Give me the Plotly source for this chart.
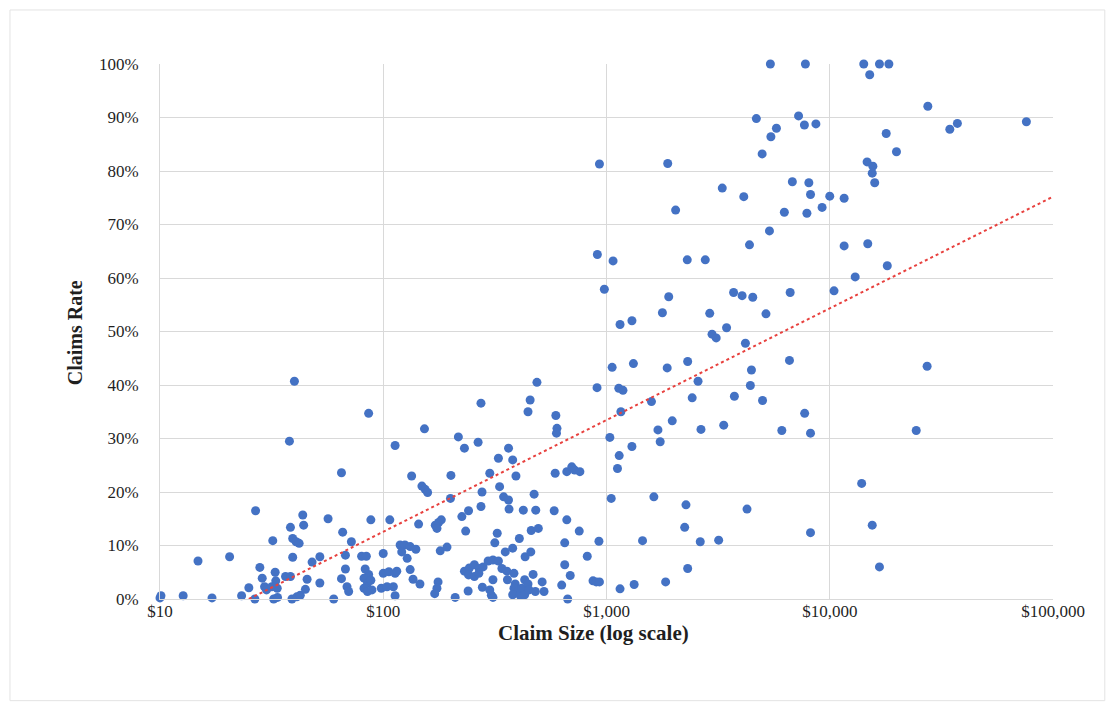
import plotly.graph_objects as go

# ---- data (claim size in $, claims rate in %) ----
claim_size = [
    10, 10.1, 12.7, 14.8, 17.1, 20.5, 23.2, 25, 26.6, 26.8, 28, 28.7, 29.4, 30, 32, 32.8, 33, 31.7, 33.5, 32.3,
    33.6, 36.5, 38.4, 38, 40, 38.4, 39.3, 40.7, 42, 39.3, 39, 41, 42.5, 43.6, 44, 45.6, 44.8, 48, 52, 52,
    56.6, 60, 65, 65.8, 67.7, 67.7, 65, 68.8, 70, 72, 80, 84, 86, 88, 83, 86, 82, 85, 88, 82,
    85, 89, 98, 100, 100, 104, 107, 113, 106, 113, 115, 111, 113, 119, 125, 132, 140, 121, 128, 132,
    136, 146, 134, 144, 153, 149, 154, 158, 171, 177, 182, 174, 180, 193, 176, 174, 170, 200, 201, 210,
    217, 225, 231, 234, 241, 231, 243, 256, 269, 241, 256, 268, 240, 266, 274, 274, 277, 280, 278, 295,
    310, 328, 300, 310, 305, 310, 300, 316, 324, 328, 332, 346, 364, 366, 364, 380, 393, 352, 380, 340,
    358, 385, 360, 390, 385, 403, 380, 410, 417, 430, 407, 424, 432, 458, 430, 469, 445, 450, 445, 455,
    488, 474, 482, 460, 495, 480, 515, 525, 583, 593, 600, 597, 589, 664, 699, 720, 760, 664, 650, 650,
    688, 630, 670, 755, 820, 870, 900, 930, 925, 907, 930, 910, 978,
    1060, 1035, 1070, 1050, 1135, 1185, 1160, 1140, 1120, 1150, 1150, 1300, 1320, 1300, 1330, 1450, 1590,
    1630, 1700, 1740, 1780, 1840, 1870, 1880, 1900, 1970, 2040, 2240, 2270, 2300, 2310, 2310, 2420, 2570,
    2630, 2650, 2770, 2900, 2970, 3100, 3180, 3300, 3350, 3450, 3710, 3740, 4050, 4120, 4190, 4260, 4370,
    4410, 4460, 4520, 4690, 4980, 5000, 5180, 5370, 5420, 5450, 5770, 6100, 6260, 6600, 6650, 6800, 7250,
    7700, 7720, 7780, 7900, 8060, 8200, 8200, 8200, 8670, 9240,
    10000, 10450, 11600, 11600, 13000, 13900, 14200, 14700, 14800, 15100, 15600, 15500, 15900, 15500,
    16700, 16700, 17900, 18100, 18400, 19900, 24400, 27300, 27500, 34500, 37300, 76000,
]
claims_rate = [
    0.2, 0.6, 0.6, 7.1, 0.2, 7.9, 0.6, 2.1, 0, 16.5, 5.9, 3.9, 2.3, 1.7, 10.9, 5.0, 3.4, 2.3, 2.0, 0,
    0.3, 4.2, 4.2, 29.5, 40.7, 13.4, 11.3, 10.7, 10.4, 7.8, 0, 0.4, 0.7, 15.7, 13.8, 3.7, 1.8, 6.9, 7.9, 3.0,
    15.0, 0, 23.6, 12.5, 8.2, 5.6, 3.8, 2.3, 1.4, 10.7, 8.0, 8.0, 34.7, 14.8, 5.6, 4.6, 3.9, 3.0, 3.5, 2.0,
    1.4, 1.7, 2.0, 8.5, 4.8, 2.3, 14.8, 28.7, 5.1, 4.8, 5.2, 2.3, 0.6, 10.1, 10.1, 9.8, 9.3, 8.8, 7.6, 5.5,
    3.7, 2.8, 23.0, 14.0, 31.8, 21.1, 20.5, 19.9, 13.8, 14.3, 14.8, 13.2, 9.0, 9.7, 3.2, 2.0, 1.0, 18.8, 23.1, 0.3,
    30.3, 15.4, 28.2, 12.7, 16.5, 5.2, 5.8, 6.4, 5.7, 4.5, 4.2, 4.8, 1.5, 29.3, 36.6, 17.3, 20.0, 6.0, 2.2, 7.1,
    7.3, 7.1, 23.5, 3.6, 0.7, 0.3, 1.7, 10.5, 12.3, 26.3, 21.0, 19.1, 18.5, 16.8, 28.2, 26.0, 23.0, 8.8, 9.5, 5.7,
    5.2, 4.8, 3.6, 2.8, 2.0, 1.4, 0.8, 0.7, 2.0, 0.8, 11.3, 16.6, 7.9, 8.8, 3.6, 4.6, 2.8, 1.7, 35.0, 37.2,
    40.5, 19.6, 16.6, 12.8, 13.2, 1.4, 3.2, 1.4, 16.5, 34.3, 31.9, 31.0, 23.5, 23.8, 24.7, 24.1, 23.8, 14.8, 10.5, 6.4,
    4.4, 2.6, 0, 12.7, 8.0, 3.4, 3.2, 3.2, 10.8, 39.5, 81.3, 64.4, 57.9,
    43.3, 30.2, 63.2, 18.8, 39.4, 39.0, 35.0, 26.8, 24.4, 51.3, 1.9, 52.0, 44.0, 28.5, 2.7, 10.9, 36.9,
    19.1, 31.6, 29.4, 53.5, 3.2, 43.2, 81.4, 56.5, 33.3, 72.7, 13.4, 17.6, 63.4, 44.4, 5.7, 37.6, 40.7,
    10.7, 31.7, 63.4, 53.4, 49.5, 48.8, 11.0, 76.8, 32.5, 50.7, 57.3, 37.9, 56.7, 75.2, 47.8, 16.8, 66.2,
    39.9, 42.8, 56.4, 89.8, 83.2, 37.1, 53.3, 68.8, 100, 86.4, 88.0, 31.5, 72.3, 44.6, 57.3, 78.0, 90.3,
    88.6, 34.7, 100, 72.1, 77.8, 75.6, 31.0, 12.4, 88.8, 73.2,
    75.3, 57.6, 74.9, 66.0, 60.2, 21.6, 100, 81.7, 66.4, 98.0, 80.9, 79.6, 77.8, 13.8,
    100, 6.0, 87.0, 62.3, 100, 83.6, 31.5, 43.5, 92.1, 87.8, 88.9, 89.2,
]

# logarithmic trendline end points (as drawn in the reference)
trend_x = [25, 100000]
trend_y = [0, 75.2]

x_tick_vals = [10, 100, 1000, 10000, 100000]
x_tick_text = ["$10", "$100", "$1,000", "$10,000", "$100,000"]
y_tick_vals = [0, 10, 20, 30, 40, 50, 60, 70, 80, 90, 100]
y_tick_text = [f"{v}%" for v in y_tick_vals]

FONT = "Liberation Serif"
TXT = "#1f1f1f"

fig = go.Figure()
fig.add_trace(go.Scatter(
    x=claim_size, y=claims_rate, mode="markers",
    marker=dict(color="#4472C4", size=9, line=dict(width=0)),
    cliponaxis=False, showlegend=False,
))
fig.add_trace(go.Scatter(
    x=trend_x, y=trend_y, mode="lines",
    line=dict(color="#E8423F", width=2, dash="dot"),
    showlegend=False,
))

grid = "#D9D9D9"
fig.update_xaxes(
    type="log", range=[1, 5],
    tickvals=x_tick_vals, ticktext=x_tick_text,
    showgrid=True, gridcolor=grid, gridwidth=1,
    showline=True, linecolor=grid, linewidth=1,
    zeroline=False, ticks="",
    tickfont=dict(family=FONT, size=17, color=TXT),
    ticklabelstandoff=-3,
)
fig.update_yaxes(
    range=[0, 100],
    tickvals=y_tick_vals, ticktext=y_tick_text,
    showgrid=True, gridcolor=grid, gridwidth=1,
    showline=True, linecolor=grid, linewidth=1,
    zeroline=False, ticks="",
    tickfont=dict(family=FONT, size=17, color=TXT),
    ticklabelstandoff=17,
)

fig.update_layout(
    width=1100, height=697,
    margin=dict(l=152, r=55, t=56, b=106),
    paper_bgcolor="white", plot_bgcolor="white",
    font=dict(family=FONT, color=TXT),
    annotations=[
        dict(text="<b>Claim Size (log scale)</b>", xref="paper", yref="paper",
             x=0.486, y=-0.064, xanchor="center", yanchor="middle",
             showarrow=False, font=dict(family=FONT, size=21, color=TXT)),
        dict(text="<b>Claims Rate</b>", xref="paper", yref="paper",
             x=-0.095, y=0.497, xanchor="center", yanchor="middle", textangle=-90,
             showarrow=False, font=dict(family=FONT, size=20, color=TXT)),
    ],
    shapes=[
        dict(type="rect", xref="paper", yref="paper",
             x0=-0.168, x1=1.058, y0=-0.19, y1=1.101,
             line=dict(color="#E3E3E3", width=1), fillcolor="rgba(0,0,0,0)", layer="below"),
    ],
)

fig.write_html("out.html")
